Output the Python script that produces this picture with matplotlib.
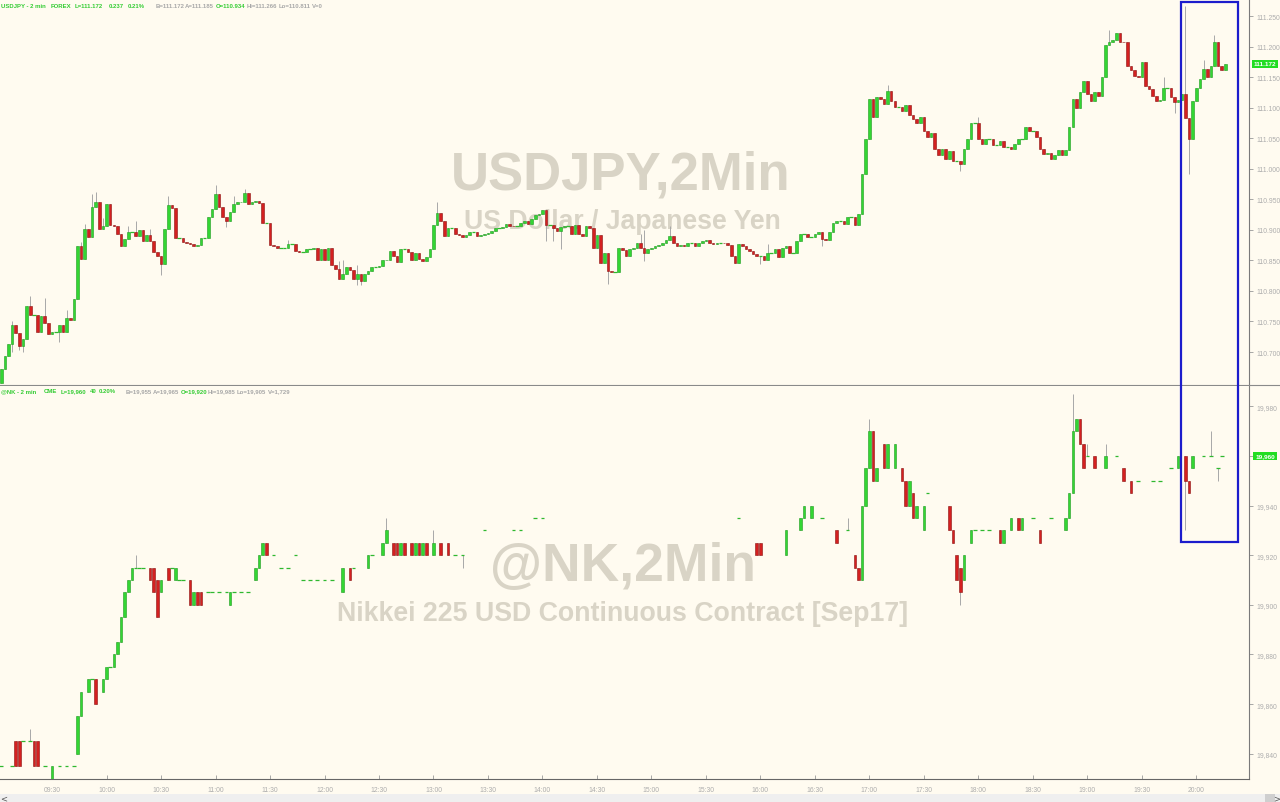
import matplotlib
matplotlib.use("Agg")
import matplotlib.pyplot as plt
import numpy as np
from matplotlib.patches import Rectangle
from matplotlib.lines import Line2D

# ---- USDJPY 2 min closes (first candle opens at 110.649, then open = previous close)
usd_first_open = 110.649
usd_close = [
    110.672, 110.693, 110.713, 110.744, 110.731, 110.710, 110.722, 110.775, 110.761, 110.761,
    110.732, 110.759, 110.747, 110.729, 110.733, 110.733, 110.745, 110.733, 110.756, 110.753,
    110.786, 110.874, 110.853, 110.901, 110.889, 110.937, 110.945, 110.901, 110.907, 110.942,
    110.908, 110.906, 110.893, 110.874, 110.885, 110.896, 110.896, 110.890, 110.900, 110.881,
    110.891, 110.881, 110.863, 110.857, 110.844, 110.902, 110.941, 110.935, 110.886, 110.886,
    110.880, 110.879, 110.877, 110.873, 110.875, 110.886, 110.886, 110.921, 110.934, 110.959,
    110.938, 110.921, 110.915, 110.930, 110.942, 110.945, 110.946, 110.960, 110.943, 110.946,
    110.948, 110.944, 110.912, 110.912, 110.875, 110.874, 110.871, 110.871, 110.871, 110.877,
    110.877, 110.865, 110.863, 110.863, 110.868, 110.868, 110.871, 110.851, 110.869, 110.850,
    110.871, 110.843, 110.836, 110.820, 110.828, 110.839, 110.834, 110.820, 110.828, 110.817,
    110.828, 110.832, 110.840, 110.840, 110.841, 110.850, 110.851, 110.866, 110.857, 110.847,
    110.868, 110.868, 110.864, 110.851, 110.862, 110.852, 110.849, 110.856, 110.869, 110.908,
    110.928, 110.915, 110.890, 110.903, 110.903, 110.893, 110.891, 110.888, 110.892, 110.897,
    110.897, 110.890, 110.892, 110.893, 110.895, 110.898, 110.903, 110.903, 110.904, 110.909,
    110.907, 110.906, 110.906, 110.911, 110.914, 110.909, 110.917, 110.924, 110.926, 110.932,
    110.908, 110.908, 110.903, 110.898, 110.904, 110.906, 110.906, 110.893, 110.908, 110.893,
    110.890, 110.906, 110.903, 110.871, 110.892, 110.846, 110.862, 110.833, 110.831, 110.831,
    110.871, 110.867, 110.857, 110.869, 110.871, 110.879, 110.871, 110.862, 110.869, 110.871,
    110.874, 110.876, 110.878, 110.883, 110.890, 110.879, 110.874, 110.875, 110.874, 110.879,
    110.879, 110.874, 110.878, 110.882, 110.883, 110.878, 110.877, 110.879, 110.879, 110.878,
    110.876, 110.857, 110.846, 110.877, 110.873, 110.869, 110.866, 110.861, 110.858, 110.858,
    110.850, 110.862, 110.862, 110.869, 110.855, 110.871, 110.873, 110.862, 110.862, 110.881,
    110.894, 110.894, 110.888, 110.888, 110.894, 110.897, 110.885, 110.883, 110.897, 110.912,
    110.915, 110.915, 110.910, 110.921, 110.921, 110.908, 110.926, 110.991, 111.049, 111.114,
    111.085, 111.117, 111.114, 111.106, 111.127, 111.111, 111.101, 111.101, 111.094, 111.104,
    111.088, 111.081, 111.075, 111.085, 111.062, 111.052, 111.059, 111.032, 111.022, 111.032,
    111.016, 111.029, 111.013, 111.013, 111.008, 111.032, 111.049, 111.075, 111.075, 111.049,
    111.040, 111.049, 111.049, 111.039, 111.039, 111.045, 111.036, 111.036, 111.032, 111.040,
    111.049, 111.049, 111.068, 111.062, 111.062, 111.052, 111.032, 111.025, 111.026, 111.016,
    111.022, 111.031, 111.022, 111.030, 111.068, 111.115, 111.100, 111.126, 111.144, 111.122,
    111.111, 111.125, 111.119, 111.150, 111.203, 111.207, 111.211, 111.222, 111.208, 111.207,
    111.169, 111.162, 111.152, 111.150, 111.175, 111.136, 111.130, 111.120, 111.111, 111.112,
    111.133, 111.133, 111.117, 111.109, 111.112, 111.123, 111.083, 111.049, 111.111, 111.133,
    111.147, 111.163, 111.150, 111.169, 111.208, 111.169, 111.162, 111.172,
]
# notable wicks (candle index -> price)
usd_high = {3: 110.751, 8: 110.791, 12: 110.788, 18: 110.769, 22: 110.880, 23: 110.909,
            25: 110.959, 26: 110.962, 28: 110.920, 35: 110.907, 37: 110.914, 41: 110.901,
            46: 110.956, 59: 110.973, 64: 110.955, 67: 110.967, 79: 110.883, 93: 110.849,
            94: 110.850, 98: 110.843, 120: 110.945, 176: 110.893, 177: 110.900, 184: 110.907,
            211: 110.877, 244: 111.137, 269: 111.085, 305: 111.228, 320: 111.151,
            326: 111.266, 331: 111.178, 334: 111.219}
usd_low = {3: 110.700, 5: 110.704, 6: 110.700, 16: 110.717, 44: 110.826, 62: 110.905,
           98: 110.809, 99: 110.809, 150: 110.882, 152: 110.882, 154: 110.869, 167: 110.811,
           177: 110.849, 209: 110.844, 226: 110.874, 264: 110.996, 323: 111.091, 327: 110.991}

# ---- @NK 2 min (only bars that traded)
nk_idx = [0, 3, 4, 5, 6, 8, 9, 10, 12, 14, 16, 18, 20, 21, 22, 24, 25, 26, 28, 29,
          30, 31, 32, 33, 34, 35, 36, 37, 38, 39, 41, 42, 43, 44, 46, 47, 48, 49, 50, 52,
          53, 54, 55, 57, 58, 60, 62, 63, 64, 66, 68, 70, 71, 72, 73, 75, 77, 79, 81, 83,
          85, 87, 89, 91, 94, 96, 97, 101, 102, 105, 106, 108, 109, 110, 111, 113, 114, 115, 116, 117,
          119, 121, 123, 125, 127, 133, 141, 143, 147, 149, 203, 208, 209, 216, 220, 221, 223, 226, 230, 233,
          235, 236, 237, 238, 239, 240, 241, 243, 244, 246, 248, 249, 250, 251, 252, 254, 255, 261, 262, 263,
          264, 265, 267, 268, 270, 272, 275, 276, 278, 280, 281, 284, 286, 289, 293, 294, 295, 296, 297, 298,
          299, 301, 304, 307, 309, 311, 313, 317, 319, 322, 324, 326, 327, 328, 331, 333, 335, 336]
nk_open = [19835, 19835, 19845, 19845, 19845, 19845, 19845, 19845, 19835, 19830, 19835, 19835, 19835, 19840, 19855, 19865, 19870, 19870, 19865, 19870,
           19875, 19875, 19880, 19885, 19895, 19905, 19910, 19915, 19915, 19915, 19915, 19915, 19910, 19905, 19915, 19915, 19910, 19910, 19910, 19910,
           19900, 19905, 19905, 19905, 19905, 19905, 19905, 19900, 19905, 19905, 19905, 19910, 19915, 19920, 19925, 19920, 19915, 19915, 19920, 19910,
           19910, 19910, 19910, 19910, 19905, 19915, 19915, 19915, 19920, 19920, 19925, 19925, 19925, 19920, 19925, 19925, 19920, 19925, 19920, 19925,
           19920, 19925, 19925, 19920, 19920, 19930, 19930, 19930, 19935, 19935, 19935, 19925, 19925, 19920, 19930, 19935, 19935, 19935, 19930, 19930,
           19920, 19915, 19910, 19940, 19955, 19970, 19950, 19965, 19955, 19955, 19955, 19950, 19940, 19945, 19935, 19930, 19945, 19940, 19930, 19920,
           19915, 19910, 19925, 19930, 19930, 19930, 19930, 19925, 19930, 19935, 19930, 19935, 19930, 19935, 19930, 19935, 19945, 19970, 19975, 19965,
           19960, 19960, 19955, 19960, 19955, 19950, 19950, 19950, 19950, 19955, 19955, 19960, 19950, 19955, 19960, 19960, 19955, 19960]
nk_close = [19835, 19835, 19835, 19835, 19845, 19845, 19835, 19835, 19835, 19835, 19835, 19835, 19835, 19855, 19865, 19870, 19870, 19860, 19870, 19875,
            19875, 19880, 19885, 19895, 19905, 19910, 19915, 19915, 19915, 19915, 19910, 19905, 19895, 19910, 19910, 19915, 19915, 19910, 19910, 19900,
            19905, 19900, 19900, 19905, 19905, 19905, 19905, 19905, 19905, 19905, 19905, 19915, 19920, 19925, 19920, 19920, 19915, 19915, 19920, 19910,
            19910, 19910, 19910, 19910, 19915, 19910, 19915, 19920, 19920, 19925, 19930, 19920, 19920, 19925, 19920, 19920, 19925, 19920, 19925, 19920,
            19925, 19920, 19920, 19920, 19920, 19930, 19930, 19930, 19935, 19935, 19935, 19920, 19920, 19930, 19935, 19940, 19940, 19935, 19925, 19930,
            19915, 19910, 19940, 19955, 19970, 19950, 19955, 19955, 19965, 19965, 19950, 19940, 19950, 19935, 19940, 19940, 19945, 19930, 19925, 19910,
            19905, 19920, 19930, 19930, 19930, 19930, 19925, 19930, 19935, 19930, 19935, 19935, 19925, 19935, 19935, 19945, 19970, 19975, 19965, 19955,
            19960, 19955, 19960, 19960, 19950, 19945, 19950, 19950, 19950, 19955, 19960, 19950, 19945, 19960, 19960, 19960, 19955, 19960]
nk_high = {8: 19850, 37: 19920, 106: 19935, 119: 19930, 233: 19935, 239: 19975,
           295: 19985, 299: 19965, 304: 19965, 333: 19970}
nk_low = {127: 19915, 264: 19900, 326: 19930, 335: 19950}

times = ["09:30", "10:00", "10:30", "11:00", "11:30", "12:00", "12:30", "13:00", "13:30", "14:00", "14:30",
         "15:00", "15:30", "16:00", "16:30", "17:00", "17:30", "18:00", "18:30", "19:00", "19:30", "20:00"]
usd_ticks = [110.70, 110.75, 110.80, 110.85, 110.90, 110.95, 111.00, 111.05, 111.10, 111.15, 111.20, 111.25]
nk_ticks = [19840, 19860, 19880, 19900, 19920, 19940, 19960, 19980]

BG = "#fffbf0"
GREEN = "#33d633"
GREEN_EDGE = "#1f9a1f"
RED = "#d42020"
RED_EDGE = "#8a1010"
WICK = "#a8a8a8"
LABEL = "#adadad"
HDR_GREEN = "#33cc33"
WATER = "#d9d4c6"
FONT = "Liberation Sans"

W, H = 1280, 803


def fx(px):
    return px / W


def fy(py):
    return 1 - py / H


def draw_candles(ax, idx, o, c, hi, lo):
    idx = np.asarray(idx, float)
    o = np.asarray(o, float)
    c = np.asarray(c, float)
    h = np.maximum(np.maximum(o, c), hi)
    l = np.minimum(np.minimum(o, c), lo)
    ax.vlines(idx, l, h, color=WICK, lw=0.7, zorder=2)
    up = c > o
    dn = c < o
    fl = c == o
    ax.bar(idx[up], (c - o)[up], bottom=o[up], width=0.72, color=GREEN,
           edgecolor=GREEN_EDGE, lw=0.4, zorder=3)
    ax.bar(idx[dn], (o - c)[dn], bottom=c[dn], width=0.72, color=RED,
           edgecolor=RED_EDGE, lw=0.4, zorder=3)
    ax.hlines(c[fl], idx[fl] - 0.5, idx[fl] + 0.5, color="#2fb82f", lw=0.9, zorder=3)


fig = plt.figure(figsize=(12.8, 8.03), dpi=100)
fig.patch.set_facecolor(BG)

ax1 = fig.add_axes([0, fy(386), fx(1249), fy(0) - fy(386)])
ax2 = fig.add_axes([0, fy(780), fx(1249), fy(387) - fy(780)])

# top: USDJPY
n = len(usd_close)
u_idx = np.arange(n)
u_close = np.array(usd_close)
u_open = np.concatenate([[usd_first_open], u_close[:-1]])
u_hi = np.array([usd_high.get(i, -np.inf) for i in range(n)])
u_lo = np.array([usd_low.get(i, np.inf) for i in range(n)])
draw_candles(ax1, u_idx, u_open, u_close, u_hi, u_lo)

# bottom: @NK
nk_hi = np.array([nk_high.get(i, -np.inf) for i in nk_idx])
nk_lo = np.array([nk_low.get(i, np.inf) for i in nk_idx])
draw_candles(ax2, nk_idx, nk_open, nk_close, nk_hi, nk_lo)

xmin, xmax = -0.33, 343.5
for ax in (ax1, ax2):
    ax.set_facecolor(BG)
    ax.set_xlim(xmin, xmax)
    for s in ("left", "top"):
        ax.spines[s].set_visible(False)
    ax.spines["right"].set_color("#7a7a7a")
    ax.spines["bottom"].set_color("#8a8a8a")
    ax.yaxis.tick_right()
    ax.tick_params(axis="y", direction="out", length=3, width=0.6, color="#999999",
                   labelsize=4.9, labelcolor=LABEL, pad=2)

ax1.set_ylim(110.646, 111.278)
ax1.set_yticks(usd_ticks)
ax1.set_yticklabels(["%.3f" % v for v in usd_ticks], fontfamily=FONT)
ax1.set_xticks([])

ax2.set_ylim(19829.8, 19988.2)
ax2.set_yticks(nk_ticks)
# the 19,960 label sits under the last-price tag
ax2.set_yticklabels(["" if v == 19960 else "{:,}".format(v) for v in nk_ticks], fontfamily=FONT)
ax2.set_xticks([14 + 15 * k for k in range(len(times))])
ax2.set_xticklabels(times, fontfamily=FONT)
ax2.tick_params(axis="x", direction="in", length=3, width=0.6, color="#999999",
                labelsize=4.9, labelcolor=LABEL, pad=5)
ax2.spines["bottom"].set_color("#666666")

# separator continues under the price scale
fig.add_artist(Line2D([fx(1249), 1], [fy(386), fy(386)], transform=fig.transFigure,
                      color="#8a8a8a", lw=0.8))

# watermarks
wm = dict(ha="center", va="center", color=WATER, fontfamily=FONT,
          fontweight="bold", zorder=0.5, transform=fig.transFigure)
ax1.text(fx(621), fy(175), "USDJPY,2Min", fontsize=38, **wm)
ax1.text(fx(622), fy(222), "US Dollar / Japanese Yen", fontsize=19.2, **wm)
ax2.text(fx(623), fy(567), "@NK,2Min", fontsize=38.4, **wm)
ax2.text(fx(623), fy(614), "Nikkei 225 USD Continuous Contract [Sep17]", fontsize=19.3, **wm)

# header lines
GRAY_HDR = "#a8a8a8"
top_hdr = [(1, "USDJPY - 2 min", HDR_GREEN), (51, "FOREX", HDR_GREEN), (75, "L=111.172", HDR_GREEN),
           (109, "0.237", HDR_GREEN), (128, "0.21%", HDR_GREEN), (156, "B=111.172", GRAY_HDR),
           (185, "A=111.185", GRAY_HDR), (216, "O=110.934", HDR_GREEN), (247, "Hi=111.266", GRAY_HDR),
           (279, "Lo=110.811", GRAY_HDR), (312, "V=0", GRAY_HDR)]
bot_hdr = [(1, "@NK - 2 min", HDR_GREEN), (44, "CME", HDR_GREEN), (61, "L=19,960", HDR_GREEN),
           (90, "40", HDR_GREEN), (99, "0.20%", HDR_GREEN), (126, "B=19,955", GRAY_HDR),
           (153, "A=19,965", GRAY_HDR), (181, "O=19,920", HDR_GREEN), (208, "Hi=19,985", GRAY_HDR),
           (237, "Lo=19,905", GRAY_HDR), (268, "V=1,729", GRAY_HDR)]
for px, txt, col in top_hdr:
    fig.text(fx(px), fy(7), txt, fontsize=4.3, color=col, ha="left", va="center",
             fontfamily=FONT, fontweight="bold")
for px, txt, col in bot_hdr:
    fig.text(fx(px), fy(392), txt, fontsize=4.3, color=col, ha="left", va="center",
             fontfamily=FONT, fontweight="bold")

# last price tags
tag = dict(facecolor="#22dd22", edgecolor="none", pad=1.3)
fig.text(fx(1265), fy(65), "111.172", fontsize=4.6, color="white", ha="center", va="center",
         fontweight="bold", fontfamily=FONT, bbox=tag)
fig.text(fx(1265), fy(457), "19,960", fontsize=4.6, color="white", ha="center", va="center",
         fontweight="bold", fontfamily=FONT, bbox=tag)

# highlight box
fig.add_artist(Rectangle((fx(1181), fy(543)), fx(1238) - fx(1181), fy(3) - fy(543),
                         transform=fig.transFigure, fill=False, edgecolor="#1c1ccc", lw=1.6))

# scroll bar strip
fig.add_artist(Rectangle((0, 0), 1, fy(795), transform=fig.transFigure,
                         facecolor="#efefef", edgecolor="none"))
fig.add_artist(Rectangle((fx(1265), 0), fx(10), fy(795), transform=fig.transFigure,
                         facecolor="#cfcfcf", edgecolor="none"))
fig.text(fx(4), fy(799), "<", fontsize=6, color="#555555", ha="center", va="center")
fig.text(fx(1277), fy(799), ">", fontsize=6, color="#555555", ha="center", va="center")

fig.savefig("out.png", dpi=100, facecolor=BG)
